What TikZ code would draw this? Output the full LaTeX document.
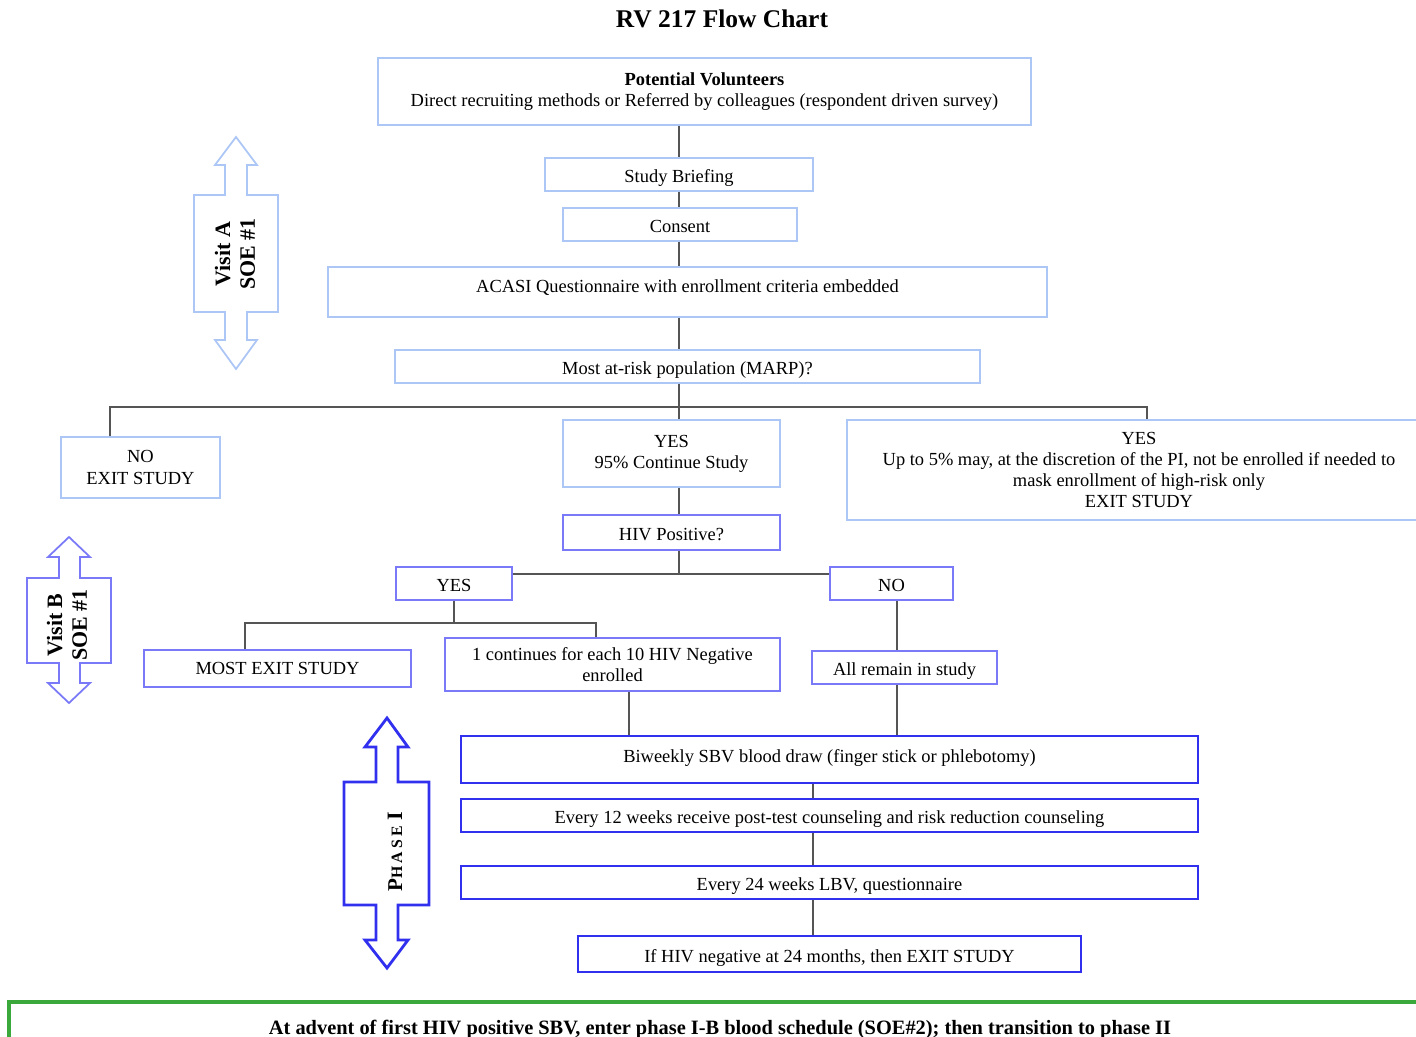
\documentclass[tikz,border=0pt]{standalone}
\usepackage{fontspec}
\setmainfont{Liberation Serif}
\usepackage{xcolor}
\usepackage{tikz}
\usetikzlibrary{positioning}

\definecolor{paleblue}{RGB}{172,198,245}
\definecolor{midblue}{RGB}{122,122,248}
\definecolor{deepblue}{RGB}{48,48,238}
\definecolor{linkgray}{RGB}{85,85,85}
\definecolor{frame}{RGB}{58,168,58}

\begin{document}
\begin{tikzpicture}[
    x=0.02cm, y=-0.02cm,
    every node/.style={font=\fontsize{10.5}{12}\selectfont},
    pale/.style={rectangle, draw=paleblue, line width=0.8pt, align=center, inner sep=2pt},
    mid/.style={rectangle, draw=midblue, line width=1.1pt, align=center, inner sep=2pt},
    phasebox/.style={rectangle, draw=deepblue, line width=1.6pt, align=center, inner sep=2pt},
    oneline/.style={text height=11.5pt, text depth=2.3pt},
    link/.style={draw=linkgray, line width=0.8pt},
    sidearrow/.style={line width=1pt, line join=miter},
    sidetext/.style={rotate=90, align=center, font=\fontsize{12.5}{14}\selectfont\bfseries}
]
    \useasboundingbox (0,0) rectangle (1416,1037);

    \node[font=\fontsize{14.5}{17}\selectfont\bfseries] (title) at (722,19) {RV 217 Flow Chart};

    % enrolment
    \node[pale, minimum width=13.06cm, minimum height=1.34cm] (vol) at (704.5,91.5)
        {\textbf{Potential Volunteers}\\Direct recruiting methods or Referred by colleagues (respondent driven survey)};
    \node[pale, oneline, minimum width=5.36cm, minimum height=0.66cm] (brief) at (679,174.5) {Study Briefing};
    \node[pale, oneline, minimum width=4.68cm, minimum height=0.66cm] (consent) at (680,224.5) {Consent};
    \node[pale, oneline, minimum width=14.38cm, minimum height=1.0cm, text depth=11pt] (acasi) at (687.5,292)
        {ACASI Questionnaire with enrollment criteria embedded};
    \node[pale, oneline, minimum width=11.7cm, minimum height=0.66cm] (marp) at (687.5,366.5) {Most at-risk population (MARP)?};

    \node[pale, minimum width=3.18cm, minimum height=1.22cm] (noexit) at (140.5,467.5) {NO\\EXIT STUDY};
    \node[pale, minimum width=4.34cm, minimum height=1.34cm] (yes95) at (671.5,453.5) {YES\\95\% Continue Study};
    \node[pale, minimum width=11.68cm, minimum height=2cm] (yes5) at (1139,470)
        {YES\\Up to 5\% may, at the discretion of the PI, not be enrolled if needed to\\mask enrollment of high-risk only\\EXIT STUDY};

    % HIV status
    \node[mid, oneline, minimum width=4.34cm, minimum height=0.7cm] (hivq) at (671.5,532.5) {HIV Positive?};
    \node[mid, oneline, minimum width=2.32cm, minimum height=0.66cm] (yesH) at (454,583.5) {YES};
    \node[mid, oneline, minimum width=2.46cm, minimum height=0.66cm] (noH) at (891.5,583.5) {NO};
    \node[mid, minimum width=5.34cm, minimum height=0.74cm] (most) at (277.5,668.5) {MOST EXIT STUDY};
    \node[mid, minimum width=6.7cm, minimum height=1.06cm] (cont) at (612.5,664.5)
        {1 continues for each 10 HIV Negative\\enrolled};
    \node[mid, oneline, minimum width=3.7cm, minimum height=0.66cm] (allrem) at (904.5,667.5) {All remain in study};

    % phase I
    \node[phasebox, oneline, minimum width=14.74cm, minimum height=0.94cm, text depth=8pt] (bi) at (829.5,759.5)
        {Biweekly SBV blood draw (finger stick or phlebotomy)};
    \node[phasebox, oneline, minimum width=14.74cm, minimum height=0.66cm] (e12) at (829.5,815.5)
        {Every 12 weeks receive post-test counseling and risk reduction counseling};
    \node[phasebox, oneline, minimum width=14.74cm, minimum height=0.66cm] (e24) at (829.5,882.5)
        {Every 24 weeks LBV, questionnaire};
    \node[phasebox, oneline, minimum width=10.06cm, minimum height=0.72cm] (ifneg) at (829.5,954)
        {If HIV negative at 24 months, then EXIT STUDY};

    % side arrows
    \draw[sidearrow, draw=paleblue] (236,137) -- (257,165) -- (247,165) -- (247,195) -- (278,195) -- (278,312)
        -- (247,312) -- (247,340) -- (257,340) -- (236,369) -- (215,340) -- (225,340) -- (225,312)
        -- (194,312) -- (194,195) -- (225,195) -- (225,165) -- (215,165) -- cycle;
    \node[sidetext] (visitA) at (235,254) {Visit A\\SOE \#1};

    \draw[sidearrow, draw=midblue] (69,537) -- (90,557) -- (80,557) -- (80,578) -- (111,578) -- (111,663)
        -- (80,663) -- (80,683) -- (90,683) -- (69,703) -- (48,683) -- (59,683) -- (59,663)
        -- (27,663) -- (27,578) -- (59,578) -- (59,557) -- (48,557) -- cycle;
    \node[sidetext] (visitB) at (67,625) {Visit B\\SOE \#1};

    \draw[sidearrow, draw=deepblue, line width=1.6pt] (387,718) -- (408,747) -- (398,747) -- (398,782) -- (429,782)
        -- (429,905) -- (398,905) -- (398,940) -- (408,940) -- (387,968) -- (365,940) -- (376,940)
        -- (376,905) -- (344,905) -- (344,782) -- (376,782) -- (376,747) -- (365,747) -- cycle;
    \node[sidetext] (phase) at (395,852)
        {{\fontsize{12}{14}\selectfont P}{\fontsize{9}{11}\selectfont\addfontfeature{LetterSpace=20}HASE} I};

    % bottom note
    \draw[draw=frame, line width=1.8pt] (9,1060) -- (9,1002) -- (1430,1002);
    \node[anchor=base, font=\fontsize{11.6}{13}\selectfont\bfseries] (advent) at (720,1034)
        {At advent of first HIV positive SBV, enter phase I-B blood schedule (SOE\#2); then transition to phase II};

    % connectors
    \coordinate (spine) at (679,0);
    \coordinate (split1) at (679,407);
    \coordinate (dropL) at (110,407);
    \coordinate (dropR) at (1147,407);
    \coordinate (split2) at (679,574);
    \coordinate (split3) at (454,623);
    \coordinate (colM) at (245,0);
    \coordinate (colC) at (596,0);
    \coordinate (colP) at (629,0);
    \coordinate (colN) at (897,0);
    \coordinate (colQ) at (813,0);

    \draw[link] (vol.south -| spine) -- (brief.north -| spine);
    \draw[link] (brief.south -| spine) -- (consent.north -| spine);
    \draw[link] (consent.south -| spine) -- (acasi.north -| spine);
    \draw[link] (acasi.south -| spine) -- (marp.north -| spine);
    \draw[link] (marp.south -| spine) -- (yes95.north -| spine);
    \draw[link] (noexit.north -| dropL) -- (dropL) -- (dropR) -- (yes5.north -| dropR);
    \draw[link] (yes95.south -| spine) -- (hivq.north -| spine);
    \draw[link] (hivq.south -| spine) -- (split2);
    \draw[link] (yesH.east |- split2) -- (noH.west |- split2);
    \draw[link] (yesH.south) -- (split3);
    \draw[link] (most.north -| colM) -- (split3 -| colM) -- (split3 -| colC) -- (cont.north -| colC);
    \draw[link] (noH.south -| colN) -- (allrem.north -| colN);
    \draw[link] (cont.south -| colP) -- (bi.north -| colP);
    \draw[link] (allrem.south -| colN) -- (bi.north -| colN);
    \draw[link] (bi.south -| colQ) -- (e12.north -| colQ);
    \draw[link] (e12.south -| colQ) -- (e24.north -| colQ);
    \draw[link] (e24.south -| colQ) -- (ifneg.north -| colQ);
\end{tikzpicture}
\end{document}
